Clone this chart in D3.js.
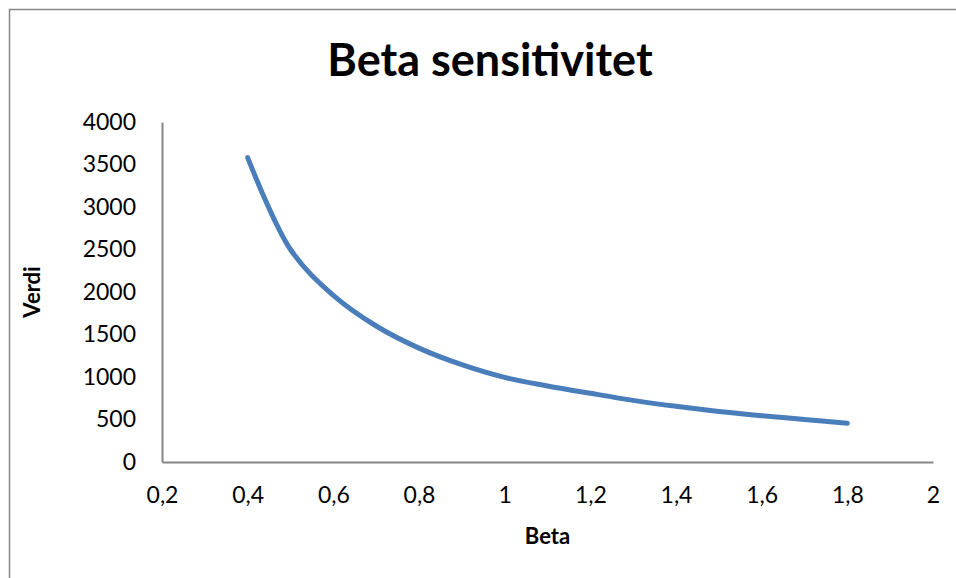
<!DOCTYPE html>
<html>
<head>
<meta charset="utf-8">
<script src="https://cdn.jsdelivr.net/npm/d3@7"></script>
<style>
  body { margin: 0; background: #fff; }
  svg { display: block; font-family: Lato, "Open Sans", sans-serif; }
</style>
</head>
<body>
<svg id="chart" width="956" height="578"></svg>
<script>
// Values
const beta = [0.4, 0.5, 0.6, 0.7, 0.8, 0.9, 1.0, 1.1, 1.2, 1.3, 1.4, 1.5, 1.6, 1.7, 1.8];
const verdi = [3580, 2500, 1960, 1600, 1340, 1145, 995, 895, 808, 725, 655, 595, 545, 500, 455];
const xTicks = [0.2, 0.4, 0.6, 0.8, 1, 1.2, 1.4, 1.6, 1.8, 2];
const yTicks = [0, 500, 1000, 1500, 2000, 2500, 3000, 3500, 4000];

const svg = d3.select("#chart");
const axisColour = "#868686";

// chart area border
svg.append("rect")
    .attr("x", 9.5).attr("y", 9.5)
    .attr("width", 960).attr("height", 600)
    .attr("fill", "none")
    .attr("stroke", axisColour)
    .attr("stroke-width", 1.5);

const x = d3.scaleLinear().domain([0.2, 2]).range([162, 933]);
const y = d3.scaleLinear().domain([0, 4000]).range([462, 122]);

const comma = d => String(d).replace(".", ",");

// x axis
const gx = svg.append("g")
    .attr("transform", `translate(0,${y(0)})`)
    .call(d3.axisBottom(x).tickValues(xTicks).tickFormat(comma).tickSize(0).tickPadding(25));
gx.select(".domain").attr("stroke", axisColour).attr("stroke-width", 2);
gx.selectAll("text").attr("font-size", 23).attr("fill", "#000").attr("font-family", "Lato");

// y axis
const gy = svg.append("g")
    .attr("transform", `translate(${x(0.2)},0)`)
    .call(d3.axisLeft(y).tickValues(yTicks).tickFormat(d => String(d)).tickSize(0).tickPadding(26));
gy.select(".domain").attr("stroke", axisColour).attr("stroke-width", 2);
gy.selectAll("text").attr("font-size", 23).attr("fill", "#000").attr("font-family", "Lato");

// the curve
const points = beta.map((b, i) => [b, verdi[i]]);
svg.append("path")
    .datum(points)
    .attr("fill", "none")
    .attr("stroke", "#4a7ebb")
    .attr("stroke-width", 5)
    .attr("stroke-linecap", "round")
    .attr("stroke-linejoin", "round")
    .attr("d", d3.line().x(d => x(d[0])).y(d => y(d[1])).curve(d3.curveCatmullRom.alpha(0.5)));

// titles
svg.append("text")
    .attr("x", 490).attr("y", 76)
    .attr("text-anchor", "middle")
    .attr("font-size", 45).attr("font-weight", "bold")
    .text("Beta sensitivitet");

svg.append("text")
    .attr("x", (x(0.2) + x(2)) / 2).attr("y", 544)
    .attr("text-anchor", "middle")
    .attr("font-size", 22).attr("font-weight", "bold")
    .text("Beta");

svg.append("text")
    .attr("transform", `translate(40,${(y(0) + y(4000)) / 2}) rotate(-90)`)
    .attr("text-anchor", "middle")
    .attr("font-size", 22).attr("font-weight", "bold")
    .text("Verdi");
</script>
</body>
</html>
